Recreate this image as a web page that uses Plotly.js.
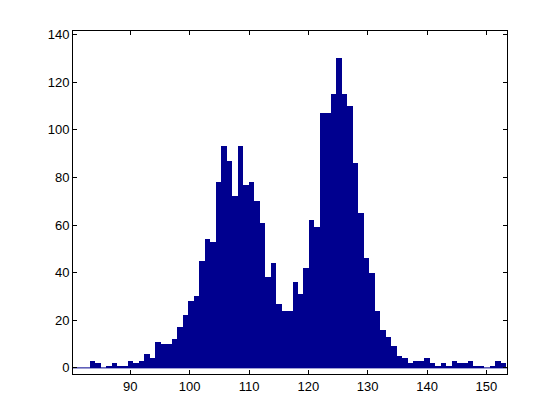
<!DOCTYPE html>
<html>
<head>
<meta charset="utf-8">
<script src="https://cdn.plot.ly/plotly-3.0.1.min.js"></script>
<style>
  html, body { margin: 0; padding: 0; background: #ffffff; }
  #chart { width: 560px; height: 420px; }
</style>
</head>
<body>
<div id="chart"></div>
<script>
// Histogram counts per bin
const counts = [
  3, 2, 0, 1, 2, 1, 1, 3, 2, 3,
  6, 4, 11, 10, 10, 12, 17, 22, 28, 30,
  45, 54, 53, 78, 93, 87, 72, 93, 77, 78,
  70, 61, 38, 44, 27, 24, 24, 36, 31, 42,
  62, 59, 107, 107, 115, 130, 115, 110, 86, 65,
  46, 40, 24, 16, 13, 9, 5, 4, 2, 3,
  3, 4, 2, 1, 2, 1, 3, 2, 2, 3,
  1, 1, 0, 1, 3, 2
];
// Bin layout: centre of the first bin and bin width
const firstBinCenter = 83.6;
const binWidth = 0.924;
const xTicks = [90, 100, 110, 120, 130, 140, 150];
const yTicks = [0, 20, 40, 60, 80, 100, 120, 140];

const navy = 'rgb(0,0,143)';

const trace = {
  type: 'bar',
  y: counts,
  x0: firstBinCenter,
  dx: binWidth,
  width: binWidth,
  marker: { color: navy, line: { width: 0 } },
  hoverinfo: 'x+y'
};

const axisCommon = {
  showgrid: false,
  zeroline: false,
  showline: true,
  linecolor: '#000000',
  linewidth: 1,
  mirror: 'ticks',
  ticks: 'inside',
  ticklen: 4,
  tickwidth: 1,
  tickcolor: '#000000',
  tickfont: { family: 'Liberation Sans, Arial, sans-serif', size: 13, color: '#000000' }
};

const layout = {
  width: 560,
  height: 420,
  paper_bgcolor: '#ffffff',
  plot_bgcolor: '#ffffff',
  margin: { l: 73, r: 53, t: 31, b: 46, pad: 0 },
  bargap: 0,
  showlegend: false,
  xaxis: Object.assign({}, axisCommon, {
    range: [80.34, 153.47],
    tickmode: 'array',
    tickvals: xTicks,
    ticktext: xTicks.map(String)
  }),
  yaxis: Object.assign({}, axisCommon, {
    range: [-2.57, 141.47],
    tickmode: 'array',
    tickvals: yTicks,
    ticktext: yTicks.map(String)
  }),
  shapes: [{
    type: 'line', xref: 'paper', yref: 'y',
    x0: 0, x1: 1, y0: 0, y1: 0,
    line: { color: navy, width: 1 },
    layer: 'below'
  }]
};

Plotly.newPlot('chart', [trace], layout, { staticPlot: true, displayModeBar: false });
</script>
</body>
</html>
